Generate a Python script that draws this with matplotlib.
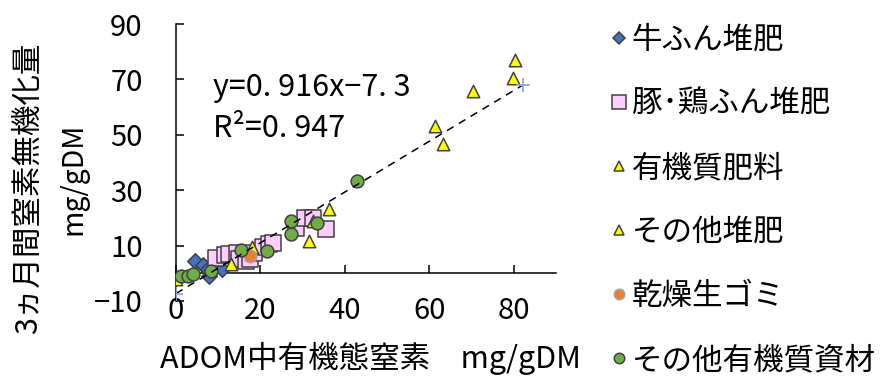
import numpy as np
import matplotlib
matplotlib.use("Agg")
import matplotlib.pyplot as plt
from matplotlib.lines import Line2D

plt.rcParams['font.family'] = ['Noto Sans CJK JP', 'DejaVu Sans']

# values, mg/gDM
cattle_x = [4.5, 6.5, 7.5, 7.7, 11.0]
cattle_y = [4.5, 3.0, 1.5, -1.0, 1.5]

pig_x = [9.5, 11.5, 12.5, 14.5, 15.0, 16.5, 17.5, 18.5, 20.5, 22.0, 23.0, 28.5, 30.5, 32.5, 35.5]
pig_y = [5.5, 6.5, 7.0, 7.5, 5.0, 4.5, 5.0, 7.5, 9.5, 10.5, 11.0, 16.5, 20.0, 20.0, 16.0]

fert_x = [80.3, 79.9, 70.3, 61.4, 63.2, 36.3, 31.4]
fert_y = [77.1, 70.5, 65.7, 53.3, 46.8, 23.3, 11.6]

other_compost_x = [0.0, 13.0, 18.0, 32.5]
other_compost_y = [-2.0, 3.5, 9.5, 19.0]

garbage_x = [17.5]
garbage_y = [6.2]

other_x = [1.3, 2.9, 4.0, 8.2, 15.3, 21.5, 27.2, 27.2, 33.5, 42.8]
other_y = [-1.1, -1.1, -0.1, 0.7, 8.4, 8.2, 18.8, 14.2, 18.2, 33.2]

# regression line ends
line_x = [0.0, 82.3]
line_y = [-7.3, 68.1]

labels = ['牛ふん堆肥', '豚･鶏ふん堆肥', '有機質肥料', 'その他堆肥', '乾燥生ゴミ', 'その他有機質資材']

edge = '#404040'
fs = 22

fig = plt.figure(figsize=(8.85, 3.78), dpi=100)
ax = fig.add_axes([176/885, 1-301/378, 380/885, 277/378])

ax.scatter(cattle_x, cattle_y, marker='D', s=62, c='#4472C4', edgecolors=edge, linewidths=1.1, zorder=3)
ax.scatter(pig_x, pig_y, marker='s', s=120, c='#FFCCFF', edgecolors=edge, linewidths=1.1, zorder=3)
ax.scatter(fert_x, fert_y, marker='^', s=80, c='#FFFF00', edgecolors=edge, linewidths=1.1, zorder=3)
ax.scatter(other_compost_x, other_compost_y, marker='^', s=80, c='#FFFF00', edgecolors=edge, linewidths=1.1, zorder=3)
ax.scatter(garbage_x, garbage_y, marker='o', s=80, c='#ED7D31', edgecolors='#A5A5A5', linewidths=1.1, zorder=3)
ax.scatter(other_x, other_y, marker='o', s=85, c='#70AD47', edgecolors=edge, linewidths=1.1, zorder=3)

ax.plot(line_x, line_y, color='black', linestyle=(0, (5, 4)), linewidth=1.1, zorder=4)
ax.plot(line_x, line_y, linestyle='none', marker='+', markersize=10, color='#8FAADC', mew=1.3, zorder=4)

ax.text(8.8, 72.5, 'y=0. 916x−7. 3', fontsize=22, va='top', ha='left')
ax.text(8.8, 58.0, 'R²=0. 947', fontsize=22, va='top', ha='left')

ax.set_xlim(0, 90)
ax.set_ylim(-10, 90)
ax.set_xticks([0, 20, 40, 60, 80])
ax.set_yticks([-10, 10, 30, 50, 70, 90])
ax.spines['top'].set_visible(False)
ax.spines['right'].set_visible(False)
ax.spines['bottom'].set_position(('data', 0))
for sp in ['left', 'bottom']:
    ax.spines[sp].set_linewidth(1.1)
ax.tick_params(axis='both', direction='in', length=6, width=1.1, labelsize=21)
ax.tick_params(axis='y', pad=24)
ax.tick_params(axis='x', pad=16)

fig.text(370/885, 1-358/378, 'ADOM中有機態窒素\u3000mg/gDM', fontsize=fs, ha='center', va='center')
fig.text(28/885, 1-188/378, '3ヵ月間窒素無機化量', fontsize=fs, rotation=90, ha='center', va='center')
fig.text(73/885, 1-179/378, 'mg/gDM', fontsize=20.5, rotation=90, ha='center', va='center')

handles = [
    Line2D([], [], linestyle='none', marker='D', markersize=6.5, markerfacecolor='#4472C4', markeredgecolor=edge, mew=1.1),
    Line2D([], [], linestyle='none', marker='s', markersize=9.4, markerfacecolor='#FFCCFF', markeredgecolor=edge, mew=1.1),
    Line2D([], [], linestyle='none', marker='^', markersize=7.5, markerfacecolor='#FFFF00', markeredgecolor=edge, mew=1.1),
    Line2D([], [], linestyle='none', marker='^', markersize=7.5, markerfacecolor='#FFFF00', markeredgecolor=edge, mew=1.1),
    Line2D([], [], linestyle='none', marker='o', markersize=7.5, markerfacecolor='#ED7D31', markeredgecolor='#A5A5A5', mew=1.1),
    Line2D([], [], linestyle='none', marker='o', markersize=7.5, markerfacecolor='#70AD47', markeredgecolor=edge, mew=1.1),
]
fig.legend(handles, labels, loc='upper left', bbox_to_anchor=(612/885, 1-25/378),
           bbox_transform=fig.transFigure, frameon=False, fontsize=fs,
           handlelength=0.45, handletextpad=0.2, labelspacing=1.08,
           borderpad=0, borderaxespad=0)

fig.savefig('out.png', dpi=100)
